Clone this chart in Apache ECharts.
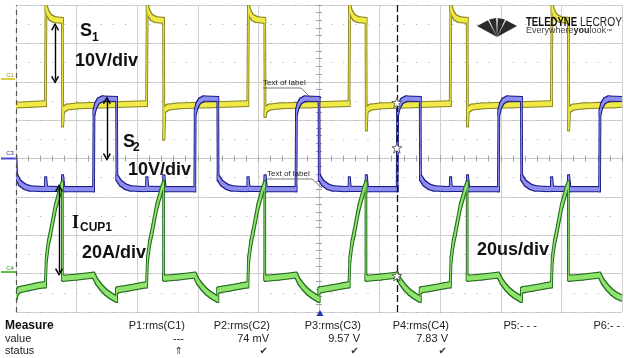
<!DOCTYPE html>
<html><head><meta charset="utf-8">
<script src="https://cdn.jsdelivr.net/npm/echarts@6.0.0/dist/echarts.min.js"></script>
<style>html,body{margin:0;padding:0;background:#fff}#c{width:624px;height:358px}</style>
</head><body><div id="c"></div><script>
// time in microseconds (20 us/div, trigger at centre), amplitude in screen divisions
const yellowS1 = [
[-100,1.39],[-95,1.41],
[-90.3,1.43],[-90.1,3.95],[-89.5,3.78],[-88.7,3.68],[-87.3,3.62],[-84.7,3.60],[-84.6,0.90],[-84.3,1.28],[-83.2,1.34],[-79.7,1.37],[-69.7,1.40],
[-56.9,1.43],[-56.7,3.95],[-56.1,3.78],[-55.3,3.68],[-53.9,3.62],[-51.3,3.60],[-51.2,0.56],[-50.9,1.28],[-49.8,1.34],[-46.3,1.37],[-36.3,1.40],
[-23.5,1.43],[-23.3,3.93],[-22.7,3.77],[-21.9,3.67],[-20.5,3.62],[-17.9,3.60],[-17.8,1.15],[-17.5,1.28],[-16.4,1.34],[-12.9,1.37],[-2.9,1.40],
[9.9,1.43],[10.1,3.95],[10.7,3.78],[11.5,3.68],[12.9,3.62],[15.5,3.60],[15.6,0.80],[15.9,1.28],[17.0,1.34],[20.5,1.37],[30.5,1.40],
[43.3,1.43],[43.5,3.94],[44.1,3.78],[44.9,3.68],[46.3,3.62],[48.9,3.60],[49.0,0.90],[49.3,1.28],[50.4,1.34],[53.9,1.37],[63.9,1.40],
[76.7,1.43],[76.9,3.95],[77.5,3.78],[78.3,3.68],[79.7,3.62],[82.3,3.60],[82.4,0.80],[82.7,1.28],[83.8,1.34],[87.3,1.37],[97.3,1.40],[100,1.41]
];
const blueS2 = [
[-100,0.0],[-99.8,-0.48],[-98.7,-0.64],[-97,-0.74],[-95.4,-0.78],[-92,-0.795],
[-90.3,-0.795],[-90.2,-0.55],[-89.9,-0.79],[-84.7,-0.795],[-84.6,-0.5],[-84.2,-0.8],
[-74.4,-0.8],[-74.25,1.2],[-73.7,1.38],[-72.8,1.5],[-71.4,1.56],[-66.8,1.55],
[-66.7,-0.5],[-65.5,-0.64],[-63.8,-0.74],[-62.2,-0.78],[-59,-0.795],
[-56.9,-0.795],[-56.8,-0.55],[-56.5,-0.79],[-51.3,-0.795],[-51.2,-0.5],[-50.8,-0.8],
[-41,-0.8],[-40.85,1.2],[-40.3,1.38],[-39.4,1.5],[-38,1.56],[-33.4,1.55],
[-33.3,-0.5],[-32.1,-0.64],[-30.4,-0.74],[-28.8,-0.78],[-25.6,-0.795],
[-23.5,-0.795],[-23.4,-0.55],[-23.1,-0.79],[-17.9,-0.795],[-17.8,-0.5],[-17.4,-0.8],
[-7.6,-0.8],[-7.45,1.2],[-6.9,1.38],[-6,1.5],[-4.6,1.56],[0,1.55],
[0.1,-0.5],[1.3,-0.64],[3,-0.74],[4.6,-0.78],[7.8,-0.795],
[9.9,-0.795],[10,-0.55],[10.3,-0.79],[15.5,-0.795],[15.6,-0.5],[16,-0.8],
[25.8,-0.8],[25.95,1.2],[26.5,1.38],[27.4,1.5],[28.8,1.56],[33.4,1.55],
[33.5,-0.5],[34.7,-0.64],[36.4,-0.74],[38,-0.78],[41.2,-0.795],
[43.3,-0.795],[43.4,-0.55],[43.7,-0.79],[48.9,-0.795],[49,-0.5],[49.4,-0.8],
[59.2,-0.8],[59.35,1.2],[59.9,1.38],[60.8,1.5],[62.2,1.56],[66.8,1.55],
[66.9,-0.5],[68.1,-0.64],[69.8,-0.74],[71.4,-0.78],[74.6,-0.795],
[76.7,-0.795],[76.8,-0.55],[77.1,-0.79],[82.3,-0.795],[82.4,-0.5],[82.8,-0.8],
[92.6,-0.8],[92.75,1.2],[93.3,1.38],[94.2,1.5],[95.6,1.56],[100,1.55]
];
const greenICup1 = [
[-100,-3.62],[-99.6,-3.48],[-99.0,-3.42],[-96,-3.37],[-92.5,-3.31],
[-90.3,-3.29],[-90.0,-2.62],[-89.3,-2.2],[-88.6,-1.94],[-87.0,-1.27],[-85.4,-0.82],[-84.7,-0.66],[-84.7,-3.10],[-84.4,-3.12],[-80,-3.09],[-74.4,-3.04],
[-73.4,-3.2],[-71.9,-3.36],[-70.4,-3.48],[-68.9,-3.57],[-66.8,-3.67],[-66.8,-3.45],[-66.4,-3.42],[-63,-3.38],[-59,-3.32],
[-56.9,-3.29],[-56.6,-2.62],[-55.9,-2.2],[-55.2,-1.94],[-53.6,-1.27],[-52.0,-0.82],[-51.3,-0.66],[-51.3,-3.10],[-51.0,-3.12],[-46.6,-3.09],[-41.0,-3.04],
[-40,-3.2],[-38.5,-3.36],[-37,-3.48],[-35.5,-3.57],[-33.4,-3.67],[-33.4,-3.45],[-33.0,-3.42],[-29.6,-3.38],[-25.6,-3.32],
[-23.5,-3.29],[-23.2,-2.62],[-22.5,-2.2],[-21.8,-1.94],[-20.2,-1.27],[-18.6,-0.82],[-17.9,-0.66],[-17.9,-3.10],[-17.6,-3.12],[-13.2,-3.09],[-7.6,-3.04],
[-6.6,-3.2],[-5.1,-3.36],[-3.6,-3.48],[-2.1,-3.57],[0,-3.67],[0,-3.45],[0.4,-3.42],[3.8,-3.38],[7.8,-3.32],
[9.9,-3.29],[10.2,-2.62],[10.9,-2.2],[11.6,-1.94],[13.2,-1.27],[14.8,-0.82],[15.5,-0.66],[15.5,-3.10],[15.8,-3.12],[20.2,-3.09],[25.8,-3.04],
[26.8,-3.2],[28.3,-3.36],[29.8,-3.48],[31.3,-3.57],[33.4,-3.67],[33.4,-3.45],[33.8,-3.42],[37.2,-3.38],[41.2,-3.32],
[43.3,-3.29],[43.6,-2.62],[44.3,-2.2],[45,-1.94],[46.6,-1.27],[48.2,-0.82],[48.9,-0.66],[48.9,-3.10],[49.2,-3.12],[53.6,-3.09],[59.2,-3.04],
[60.2,-3.2],[61.7,-3.36],[63.2,-3.48],[64.7,-3.57],[66.8,-3.67],[66.8,-3.45],[67.2,-3.42],[70.6,-3.38],[74.6,-3.32],
[76.7,-3.29],[77,-2.62],[77.7,-2.2],[78.4,-1.94],[80,-1.27],[81.6,-0.82],[82.3,-0.66],[82.3,-3.10],[82.6,-3.12],[87,-3.09],[92.6,-3.04],
[93.6,-3.2],[95.1,-3.36],[96.6,-3.48],[98.1,-3.57],[100,-3.64]
];
// cursors and measurement markers (time, level)
const cursorTimes = [-100, 25.7];
const cursorMarks = [[25.7,1.45],[25.7,0.27],[25.7,-3.06]];
const triggerMark = [0,-4];
// amplitude arrows: [time, from, to]
const arrowS1 = [-87.1, 3.43, 2.05];
const arrowS2 = [-70.0, 1.52, 0.04];
const arrowI = [-85.8, -0.77, -2.96];
// measurement table
const measureTitles = ['Measure','value','status'];
const measureHeaders = ['P1:rms(C1)','P2:rms(C2)','P3:rms(C3)','P4:rms(C4)','P5:- - -','P6:- - -'];
const measureValues = ['---','74 mV','9.57 V','7.83 V','',''];
const measureStatus = ['\u21D1','\u2714','\u2714','\u2714','',''];

const F = "'Liberation Sans', Arial, sans-serif";
function hull(p) {
  p = p.slice().sort(function (a, b) { return a[0] - b[0] || a[1] - b[1]; });
  const cr = function (o, a, b) { return (a[0]-o[0])*(b[1]-o[1]) - (a[1]-o[1])*(b[0]-o[0]); };
  const lo = [], up = [];
  for (const q of p) { while (lo.length >= 2 && cr(lo[lo.length-2], lo[lo.length-1], q) <= 0) lo.pop(); lo.push(q); }
  for (let i = p.length - 1; i >= 0; i--) { const q = p[i]; while (up.length >= 2 && cr(up[up.length-2], up[up.length-1], q) <= 0) up.pop(); up.push(q); }
  up.pop(); lo.pop();
  return lo.concat(up);
}
// a trace drawn as an envelope: segment swept by a small rectangle (rx, ry in pixels)
function band(name, pts, fill, rx, ry, z) {
  const segs = [];
  for (let i = 0; i < pts.length - 1; i++) segs.push([pts[i][0], pts[i][1], pts[i+1][0], pts[i+1][1]]);
  return {
    type: 'custom', name, z, clip: true, silent: true,
    coordinateSystem: 'cartesian2d', xAxisIndex: 0, yAxisIndex: 0,
    encode: {x: [0, 2], y: [1, 3]},
    data: segs,
    renderItem(params, api) {
      const a = api.coord([api.value(0), api.value(1)]);
      const b = api.coord([api.value(2), api.value(3)]);
      const q = [];
      [a, b].forEach(function (c) {
        q.push([c[0]-rx, c[1]-ry], [c[0]+rx, c[1]-ry], [c[0]+rx, c[1]+ry], [c[0]-rx, c[1]+ry]);
      });
      return {type: 'polygon', shape: {points: hull(q)}, style: {fill: fill}};
    }
  };
}
function trace(name, pts, inner, outer, ry, z) {
  return [band(name, pts, outer, 1.35, ry + 1.0, z), band(name, pts, inner, 0.45, ry, z + 0.5)];
}
function T(x, y, s, font, fill, align) {
  return {type: 'text', x: x, y: y, silent: true, z: 50,
    style: {text: s, font: font, fill: fill || '#111', align: align || 'left', textAlign: align || 'left', verticalAlign: 'middle', textVerticalAlign: 'middle'}};
}
function L(x1, y1, x2, y2, c, w) {
  return {type: 'line', silent: true, z: 50, shape: {x1, y1, x2, y2}, style: {stroke: c, lineWidth: w || 1}};
}
const chev = 'path://M5,0 L10,8 L8.6,9.2 L5,3.4 L1.4,9.2 L0,8 Z';
const star = 'path://M5,0 L6.3,3.6 L10,3.6 L7,5.9 L8.2,10 L5,7.6 L1.8,10 L3,5.9 L0,3.6 L3.7,3.6 Z';
function arrowPair(a) {
  return [{coord: [a[0], a[1]], symbol: chev, symbolSize: [8, 8]}, {coord: [a[0], a[2]], symbol: chev, symbolSize: [8, 8]}];
}

const colX = [185, 270, 361, 449, 537, 627];
const g = [];
// annotations
g.push(T(80, 31.5, 'S', 'bold 18px ' + F));
g.push(T(92, 37.5, '1', 'bold 12px ' + F));
g.push(T(75, 61.5, '10V/div', 'bold 18px ' + F));
g.push(T(123, 142.5, 'S', 'bold 18px ' + F));
g.push(T(133, 148, '2', 'bold 12px ' + F));
g.push(T(128, 170, '10V/div', 'bold 18px ' + F));
g.push(T(72, 223.5, 'I', "bold 18px 'Liberation Serif', serif"));
g.push(T(80, 228, 'CUP1', 'bold 12px ' + F));
g.push(T(82, 253, '20A/div', 'bold 18px ' + F));
g.push(T(477, 250, '20us/div', 'bold 18px ' + F));
// label callouts
g.push(T(263, 83, 'Text of label', '8px ' + F, '#222'));
g.push(L(263, 88, 301, 88, '#555', 0.8));
g.push(L(301, 88, 311, 98, '#555', 0.8));
g.push(T(267, 174, 'Text of label', '8px ' + F, '#222'));
g.push(L(267, 179, 312, 179, '#555', 0.8));
g.push(L(312, 179, 322, 188, '#555', 0.8));
// channel markers
g.push(T(10, 75.5, 'C1', '6px ' + F, '#9a9420', 'center'));
g.push({type: 'rect', silent: true, shape: {x: 1, y: 78, width: 14, height: 2}, style: {fill: '#d8d040'}});
g.push(T(10, 153.5, 'C3', '6px ' + F, '#2a2a90', 'center'));
g.push({type: 'rect', silent: true, shape: {x: 1, y: 157.5, width: 15, height: 2}, style: {fill: '#4a4ad0'}});
g.push(T(10, 268.5, 'C4', '6px ' + F, '#2a8a2a', 'center'));
g.push({type: 'rect', silent: true, shape: {x: 1, y: 271, width: 15, height: 2}, style: {fill: '#60c040'}});
// logo
const P0 = [497, 37];
[[[477,26],[488,20.2]], [[489,19.6],[496.2,18]], [[497.8,18],[505,19.6]], [[506,20.2],[517,26]]].forEach(function (b) {
  g.push({type: 'polygon', silent: true, z: 40, shape: {points: [P0, b[0], b[1]]}, style: {fill: '#2b2b2b'}});
});
g.push({type: 'text', x: 526, y: 22.5, scaleX: 0.8, silent: true, z: 40, style: {text: 'TELEDYNE', font: 'bold 12px ' + F, fill: '#111', verticalAlign: 'middle', textVerticalAlign: 'middle'}});
g.push({type: 'text', x: 580, y: 22.5, scaleX: 0.85, silent: true, z: 40, style: {text: 'LECROY', font: '12px ' + F, fill: '#222', verticalAlign: 'middle', textVerticalAlign: 'middle'}});
g.push({type: 'text', x: 526, y: 31, silent: true, z: 40, style: {
  text: '{a|Everywhere}{b|you}{a|look}{c|\u2122}', font: '9px ' + F, verticalAlign: 'middle', textVerticalAlign: 'middle',
  rich: {a: {font: '9px ' + F, fill: '#444'}, b: {font: 'bold 9px ' + F, fill: '#222'}, c: {font: '6px ' + F, fill: '#444'}}}});
// measurement table
g.push(T(5, 326, measureTitles[0], 'bold 12px ' + F, '#111'));
g.push(T(5, 339, measureTitles[1], '11px ' + F, '#222'));
g.push(T(5, 351, measureTitles[2], '11px ' + F, '#222'));
measureHeaders.forEach(function (s, i) { g.push(T(colX[i], 326, s, '11px ' + F, '#222', 'right')); });
measureValues.forEach(function (s, i) { if (s) g.push(T(colX[i] - 1, 339, s, '11px ' + F, '#222', 'right')); });
measureStatus.forEach(function (s, i) { if (s) g.push(T(colX[i] - 2, 351, s, '10px DejaVu Sans, sans-serif', '#333', 'right')); });

const gridLine = {color: '#d0d0d0', width: 1};
const tickStyle = {color: '#a0a0a0', width: 1};
function xAx(pos, withSplit) {
  return {type: 'value', min: -100, max: 100, interval: 20, position: pos,
    axisLine: {show: true, onZero: true, onZeroAxisIndex: 0, lineStyle: {color: '#c4c4c4', width: 1}},
    axisTick: {show: true, length: 3, lineStyle: tickStyle},
    minorTick: {show: true, splitNumber: 5, length: 3, lineStyle: tickStyle},
    axisLabel: {show: false}, splitLine: {show: withSplit, lineStyle: gridLine}};
}
function yAx(pos, withSplit) {
  return {type: 'value', min: -4, max: 4, interval: 1, position: pos,
    axisLine: {show: true, onZero: true, onZeroAxisIndex: 0, lineStyle: {color: '#c4c4c4', width: 1}},
    axisTick: {show: true, length: 3, lineStyle: tickStyle},
    minorTick: {show: true, splitNumber: 5, length: 3, lineStyle: tickStyle},
    axisLabel: {show: false}, splitLine: {show: withSplit, lineStyle: gridLine}};
}

const chart = echarts.init(document.getElementById('c'), null, {renderer: 'canvas'});
chart.setOption({
  animation: false,
  backgroundColor: '#ffffff',
  grid: {left: 16, right: 2, top: 5, bottom: 46, containLabel: false, outerBoundsMode: 'none'},
  xAxis: [xAx('bottom', true), xAx('top', false)],
  yAxis: [yAx('left', true), yAx('right', false),
    {type: 'value', min: -4, max: 4, interval: 0.5, position: 'left', axisLine: {show: false, onZero: false},
     axisTick: {show: false}, axisLabel: {show: false},
     splitLine: {show: true, lineStyle: {color: '#a8a8a8', width: 1, type: [1, 11.12]}}}],
  series: [].concat(
    trace('S1', yellowS1, '#efea48', '#8a8420', 2.4, 2),
    trace('S2', blueS2, '#8e8ef0', '#1c1c88', 2.1, 3),
    trace('ICUP1', greenICup1, '#8fe46e', '#226a1c', 2.4, 4),
    [{type: 'line', name: 'marks', data: [], z: 10, silent: true,
     markLine: {silent: true, symbol: ['none', 'none'], label: {show: false}, animation: false,
       data: [
         {xAxis: cursorTimes[0], lineStyle: {type: [5, 4], color: '#555', width: 1.2}},
         {xAxis: cursorTimes[1], lineStyle: {type: [7, 3], color: '#111', width: 1.3}},
         arrowPair(arrowS1), arrowPair(arrowS2), arrowPair(arrowI)
       ],
       lineStyle: {color: '#000', width: 1.4, type: 'solid'}},
     markPoint: {silent: true, label: {show: false}, animation: false,
       data: cursorMarks.map(function (c) { return {coord: c, symbol: star, symbolSize: 10, itemStyle: {color: '#fff', borderColor: '#666', borderWidth: 1}}; })
         .concat([{coord: triggerMark, symbol: 'triangle', symbolSize: [7, 6], symbolOffset: [1, 1], itemStyle: {color: '#2536b8'}}])}
    }]
  ),
  graphic: {elements: g}
});
</script></body></html>
